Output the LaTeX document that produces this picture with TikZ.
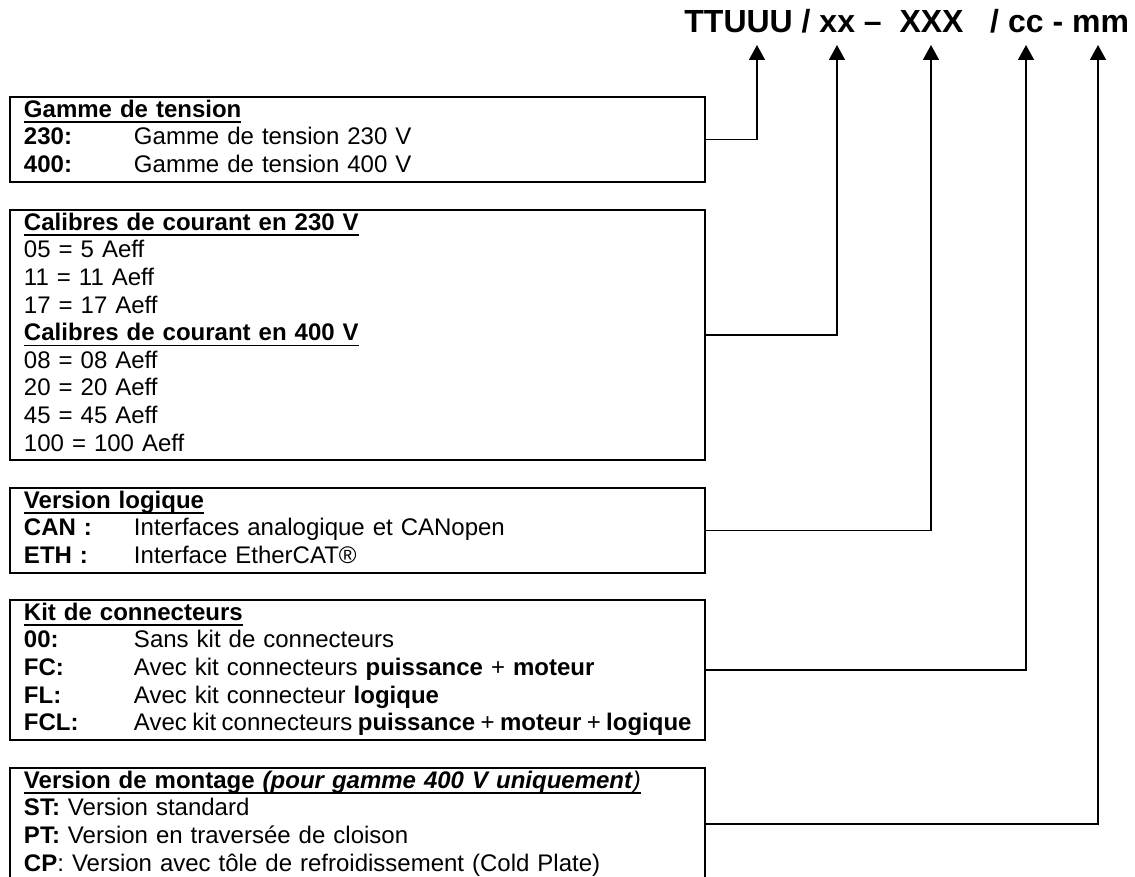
\documentclass[tikz,border=0pt]{standalone}
\usepackage{fontspec}
\setmainfont{Liberation Sans}
\usepackage{tikz}
\usetikzlibrary{arrows.meta, positioning}

\newsavebox{\ulnbox}
\newcommand{\uln}[1]{\leavevmode\sbox{\ulnbox}{#1}\rlap{\rule[-2.8pt]{\wd\ulnbox}{0.9pt}}\usebox{\ulnbox}}
\newcommand{\hdr}[1]{\uln{\textbf{#1}}}
\newcommand{\code}[1]{\makebox[55pt][l]{\textbf{#1}}}
\newcommand{\pad}{\leftskip=7pt\relax\parindent=0pt\relax}

\begin{document}
\begin{tikzpicture}[x=0.5pt,y=-0.5pt,>={Triangle[length=7.5pt,width=8pt]},
        infobox/.style={draw,line width=1pt,anchor=north west,inner xsep=0pt,inner ysep=0.5pt,
                        text width=347.5pt,align=left,font=\fontsize{12}{13.8}\selectfont},
        elbow/.style={to path={-| (\tikztotarget)}}]

  \useasboundingbox (0,0) rectangle (1135,877);

  \node[anchor=base west,inner sep=0pt,font=\fontsize{16}{19}\selectfont\bfseries] (ref) at (684,33)
        {TTUUU / xx –\ \ XXX\ \ \ / cc - mm};

  % arrow tips under the reference code
  \coordinate (tip_1) at (757,45);
  \coordinate (tip_2) at (837,45);
  \coordinate (tip_3) at (931,45);
  \coordinate (tip_4) at (1026,45);
  \coordinate (tip_5) at (1098,45);

  \node[infobox] (tension) at (9,96) {\pad\strut\hdr{Gamme de tension}\\
        \code{230:}Gamme de tension 230 V\\
        \code{400:}Gamme de tension 400 V\strut\par};
  \node[infobox] (calibres) at (9,209) {\pad\strut\hdr{Calibres de courant en 230 V}\\
        05 = 5 Aeff\\
        11 = 11 Aeff\\
        17 = 17 Aeff\\
        \hdr{Calibres de courant en 400 V}\\
        08 = 08 Aeff\\
        20 = 20 Aeff\\
        45 = 45 Aeff\\
        100 = 100 Aeff\strut\par};
  \node[infobox] (logique) at (9,487) {\pad\strut\hdr{Version logique}\\
        \code{CAN :}Interfaces analogique et CANopen\\
        \code{ETH :}Interface EtherCAT®\strut\par};
  \node[infobox] (kit) at (9,599) {\pad\strut\hdr{Kit de connecteurs}\\
        \code{00:}Sans kit de connecteurs\\
        \code{FC:}Avec kit connecteurs \textbf{puissance} + \textbf{moteur}\\
        \code{FL:}Avec kit connecteur \textbf{logique}\\
        \code{FCL:}\mbox{\spaceskip=2.7pt Avec kit connecteurs \textbf{puissance} + \textbf{moteur} + \textbf{logique}}\strut\par};
  \node[infobox] (montage) at (9,767) {\pad\strut\uln{\textbf{Version de montage \textit{(pour gamme 400 V uniquement}}\textit{)}}\\
        \textbf{ST:} Version standard\\
        \textbf{PT:} Version en traversée de cloison\\
        \textbf{CP}: Version avec tôle de refroidissement (Cold Plate)\strut\par};

  \path[->,line width=0.75pt]
        (tension.east)  edge[elbow] (tip_1)
        (calibres.east) edge[elbow] (tip_2)
        (logique.east)  edge[elbow] (tip_3)
        (kit.east)      edge[elbow] (tip_4)
        (montage.east)  edge[elbow] (tip_5);
\end{tikzpicture}
\end{document}
